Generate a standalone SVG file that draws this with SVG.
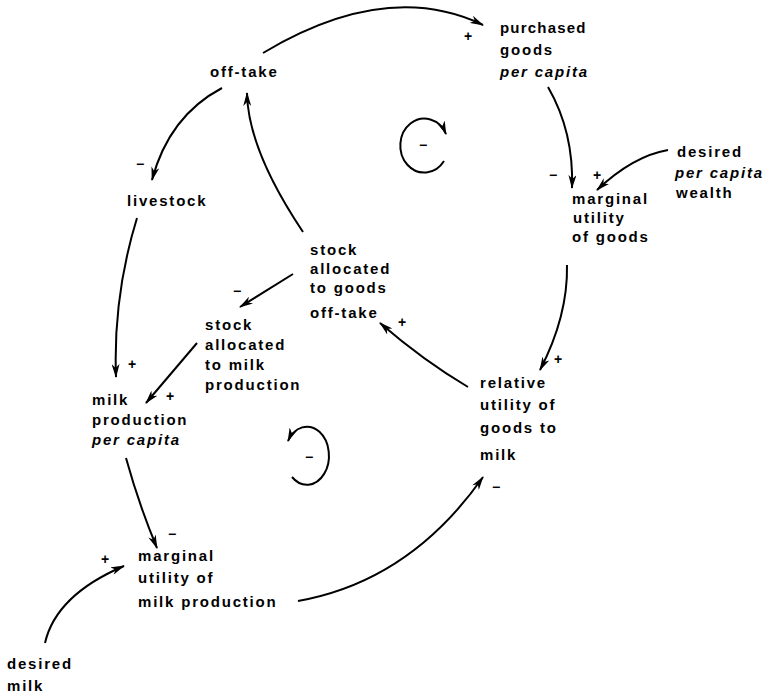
<svg xmlns="http://www.w3.org/2000/svg" width="783" height="696" viewBox="0 0 783 696">
<style>
text{font-family:"Liberation Sans",Arial,sans-serif;font-size:15px;font-weight:bold;letter-spacing:1.8px;fill:#000}
.it{font-style:italic}
.sg{font-size:14px;letter-spacing:0;text-anchor:middle}
.c{fill:none;stroke:#000;stroke-width:2}
</style>
<defs>
<marker id="ah" viewBox="0 0 14 8" refX="13" refY="4" markerWidth="14" markerHeight="8" markerUnits="userSpaceOnUse" orient="auto">
<path d="M0,0 L14,4 L0,8 L4,4 z" fill="#000"/>
</marker>
</defs>
<rect width="783" height="696" fill="#fff"/>
<g id="connectors">
<path class="c" marker-end="url(#ah)" d="M263,53 Q387,-21 483,25"/>
<path class="c" marker-end="url(#ah)" d="M222,88 Q169,116 152,180"/>
<path class="c" marker-end="url(#ah)" d="M137,218 Q113,296 116,377"/>
<path class="c" marker-end="url(#ah)" d="M303,232 Q248,150 247,93"/>
<path class="c" marker-end="url(#ah)" d="M293,274 L240,307"/>
<path class="c" marker-end="url(#ah)" d="M197,343 L146,403"/>
<path class="c" marker-end="url(#ah)" d="M548,87 Q574,132 572,188"/>
<path class="c" marker-end="url(#ah)" d="M668,150 Q633,156 597,190"/>
<path class="c" marker-end="url(#ah)" d="M567,265 Q568,316 540,370"/>
<path class="c" marker-end="url(#ah)" d="M468,387 Q424,361 380,323"/>
<path class="c" marker-end="url(#ah)" d="M126,458 Q139,505 157,548"/>
<path class="c" marker-end="url(#ah)" d="M45,643 Q56,595 124,566"/>
<path class="c" marker-end="url(#ah)" d="M298,601 Q410,581 483,477"/>
</g>
<g id="loop-top">
<path class="c" marker-end="url(#ah)" d="M444,161 A24,27 0 1 1 446,134"/>
<text class="sg" x="423" y="150">−</text>
</g>
<g id="loop-bottom">
<path class="c" marker-end="url(#ah)" d="M292,477 A22,29 0 1 0 288,441"/>
<text class="sg" x="309" y="462">−</text>
</g>
<g id="off-take">
<text x="210" y="77">off-take</text>
</g>
<g id="purchased-goods">
<text x="500" y="33" style="letter-spacing:1.2px">purchased</text>
<text x="500" y="55">goods</text>
<text x="500" y="77" class="it">per capita</text>
<text class="sg" x="468" y="41">+</text>
</g>
<g id="desired-wealth">
<text x="677" y="157">desired</text>
<text x="675" y="178" class="it">per capita</text>
<text x="676" y="198">wealth</text>
</g>
<g id="marginal-utility-goods">
<text x="572" y="204">marginal</text>
<text x="573" y="223">utility</text>
<text x="572" y="242">of goods</text>
<text class="sg" x="553" y="180">−</text>
<text class="sg" x="597" y="180">+</text>
</g>
<g id="livestock">
<text x="127" y="206">livestock</text>
<text class="sg" x="140" y="169">−</text>
</g>
<g id="stock-goods">
<text x="310" y="255">stock</text>
<text x="310" y="274">allocated</text>
<text x="310" y="293">to goods</text>
<text x="310" y="318">off-take</text>
<text class="sg" x="402" y="327">+</text>
</g>
<g id="stock-milk">
<text x="205" y="330">stock</text>
<text x="205" y="350">allocated</text>
<text x="205" y="370">to milk</text>
<text x="205" y="390">production</text>
<text class="sg" x="237" y="296">−</text>
</g>
<g id="milk-production">
<text x="92" y="405">milk</text>
<text x="92" y="425">production</text>
<text x="92" y="445" class="it">per capita</text>
<text class="sg" x="132" y="369">+</text>
<text class="sg" x="170" y="401">+</text>
</g>
<g id="relative-utility">
<text x="480" y="388">relative</text>
<text x="480" y="410">utility of</text>
<text x="480" y="433">goods to</text>
<text x="480" y="460">milk</text>
<text class="sg" x="558" y="364">+</text>
<text class="sg" x="496" y="492">−</text>
</g>
<g id="marginal-utility-milk">
<text x="138" y="561">marginal</text>
<text x="138" y="583">utility of</text>
<text x="138" y="607">milk production</text>
<text class="sg" x="172" y="539">−</text>
<text class="sg" x="105" y="564">+</text>
</g>
<g id="desired-milk">
<text x="7" y="669">desired</text>
<text x="7" y="691">milk</text>
</g>
</svg>
